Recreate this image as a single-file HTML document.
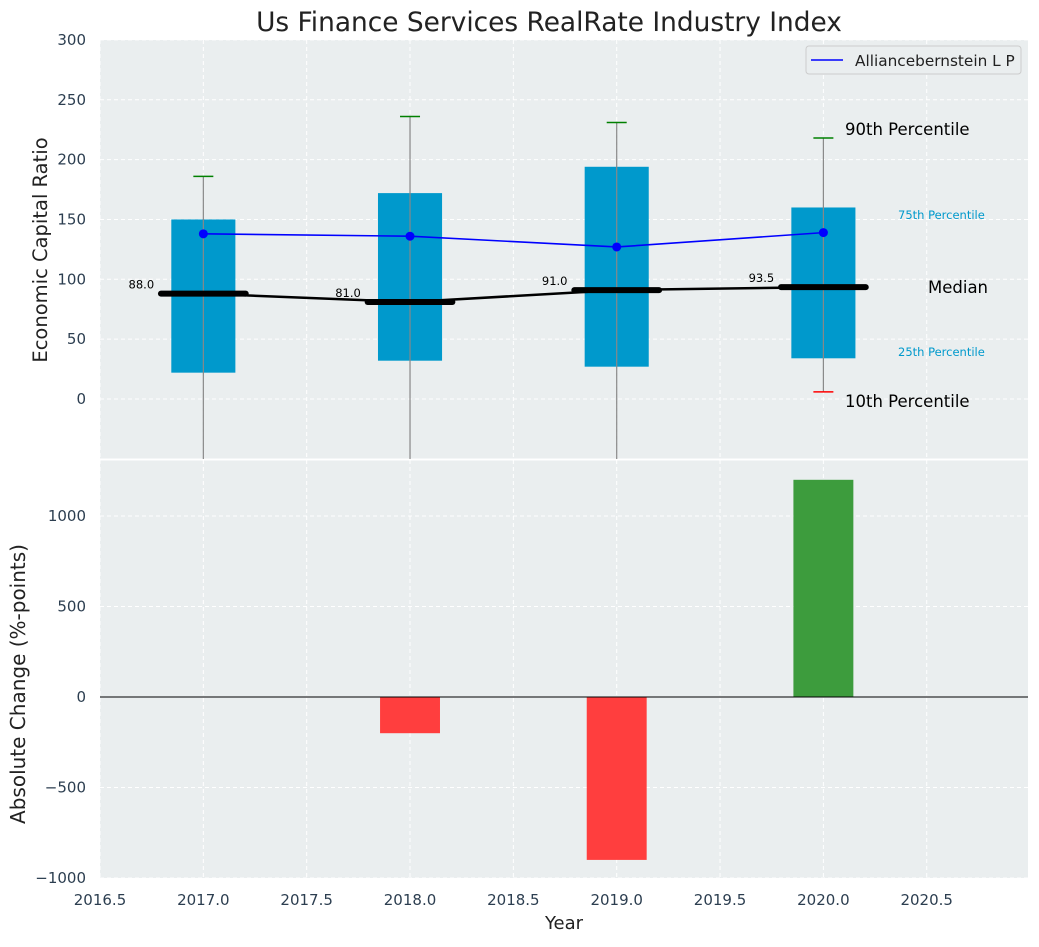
<!DOCTYPE html>
<html><head><meta charset="utf-8"><style>
body{margin:0;background:#fff;}
svg text{font-family:"DejaVu Sans","Liberation Sans",sans-serif;}
</style></head><body>
<svg id="c" width="1039" height="942" xmlns="http://www.w3.org/2000/svg"></svg>
<script>
const years=[2017,2018,2019,2020];
const q10=[-60,-60,-60,6];
const q25=[22,32,27,34];
const med=[88,81,91,93.5];
const q75=[150,172,194,160];
const q90=[186,236,231,218];
const company=[138,136,127,139];
const changes=[0,-200,-900,1200];
const xTicks=[2016.5,2017,2017.5,2018,2018.5,2019,2019.5,2020,2020.5];
const yTopTicks=[0,50,100,150,200,250,300];
const yBotTicks=[-1000,-500,0,500,1000];

const NS="http://www.w3.org/2000/svg";
const svg=document.getElementById('c');
function el(t,a,txt){const e=document.createElementNS(NS,t);for(const k in a)e.setAttribute(k,a[k]);if(txt!==undefined)e.textContent=txt;svg.appendChild(e);return e;}
const L=100,R=1028,T1=40,B1=459,T2=460,B2=878;
const X=v=>L+(v-2016.5)*(R-L)/(2020.99-2016.5);
const Y1=v=>399-v*1.197;
const Y2=v=>697-v*0.181;

let e;
e=el('rect',{x:L,y:T1,width:R-L,height:B1-T1,fill:'#eaeeef'});

e=el('rect',{x:L,y:T2,width:R-L,height:B2-T2,fill:'#eaeeef'});

xTicks.forEach(t=>{
 el('line',{x1:X(t),x2:X(t),y1:T1,y2:B1,stroke:'#fff','stroke-dasharray':'4,3','stroke-width':1});
 el('line',{x1:X(t),x2:X(t),y1:T2,y2:B2,stroke:'#fff','stroke-dasharray':'4,3','stroke-width':1});
 e=el('text',{x:X(t),y:905,'text-anchor':'middle','font-size':15,fill:'#2c3e50'},t.toFixed(1));
 
});
yTopTicks.forEach(t=>{
 el('line',{x1:L,x2:R,y1:Y1(t),y2:Y1(t),stroke:'#fff','stroke-dasharray':'4,3'});
 e=el('text',{x:86,y:Y1(t)+5,'text-anchor':'end','font-size':15,fill:'#2c3e50'},t);
 
});
yBotTicks.forEach(t=>{
 el('line',{x1:L,x2:R,y1:Y2(t),y2:Y2(t),stroke:'#fff','stroke-dasharray':'4,3'});
 e=el('text',{x:86,y:Y2(t)+5,'text-anchor':'end','font-size':15,fill:'#2c3e50'},t<0?'\u2212'+(-t):t);
 
});
el('line',{x1:L,x2:R,y1:459.5,y2:459.5,stroke:'#fff','stroke-width':2});
const bw=0.31*(R-L)/4.49, mw=0.41*(R-L)/4.49;
const clipY=v=>Math.min(B1,Y1(v));
years.forEach((yr,i)=>{
 const cx=X(yr);
 e=el('rect',{x:cx-bw/2,y:Y1(q75[i]),width:bw,height:Y1(q25[i])-Y1(q75[i]),fill:'#0099cc'});
 
 e=el('line',{x1:cx,x2:cx,y1:Y1(q90[i]),y2:clipY(q10[i]),stroke:'#888','stroke-width':1.2});
 
 el('line',{x1:cx-10,x2:cx+10,y1:Y1(q90[i]),y2:Y1(q90[i]),stroke:'green','stroke-width':1.5});
 if(Y1(q10[i])<B1) el('line',{x1:cx-10,x2:cx+10,y1:Y1(q10[i]),y2:Y1(q10[i]),stroke:'red','stroke-width':1.5});
 e=el('line',{x1:cx-mw/2,x2:cx+mw/2,y1:Y1(med[i]),y2:Y1(med[i]),stroke:'#000','stroke-width':6,'stroke-linecap':'round'});
 
 e=el('text',{x:X(yr-0.3),y:Y1(med[i])-5,'text-anchor':'middle','font-size':11.5,fill:'#000'},med[i].toFixed(1));
 
});
e=el('polyline',{points:years.map((y,i)=>X(y)+','+Y1(med[i])).join(' '),fill:'none',stroke:'#000','stroke-width':2.5});

e=el('polyline',{points:years.map((y,i)=>X(y)+','+Y1(company[i])).join(' '),fill:'none',stroke:'blue','stroke-width':1.6});

years.forEach((y,i)=>{e=el('circle',{cx:X(y),cy:Y1(company[i]),r:4.5,fill:'blue'});
 });
const ann=[[845,135,'90th Percentile',16.5,'#000'],[898,219,'75th Percentile',11.5,'#0099cc'],[928,293,'Median',16.5,'#000'],[898,356,'25th Percentile',11.5,'#0099cc'],[845,407,'10th Percentile',16.5,'#000']];
ann.forEach(a=>{e=el('text',{x:a[0],y:a[1],'font-size':a[3],fill:a[4]},a[2]);});
e=el('rect',{x:806,y:46,width:215,height:28,rx:3,fill:'#eaeeef',stroke:'#ccc'});

el('line',{x1:811,x2:843,y1:60,y2:60,stroke:'blue','stroke-width':1.6});
e=el('text',{x:855,y:66,'font-size':15.3,fill:'#222'},'Alliancebernstein L P');

const barw=0.29*(R-L)/4.49;
years.forEach((y,i)=>{
 if(!changes[i])return;
 const v=changes[i];
 e=el('rect',{x:X(y)-barw/2,y:Math.min(Y2(v),Y2(0)),width:barw,height:Math.abs(Y2(v)-Y2(0)),fill:v<0?'#ff3e3e':'#3d9c3d'});
 
});
el('line',{x1:L,x2:R,y1:Y2(0),y2:Y2(0),stroke:'#000','stroke-width':1});
e=el('text',{x:549,y:31,'text-anchor':'middle','font-size':26.4,fill:'#222'},'Us Finance Services RealRate Industry Index');

e=el('text',{x:0,y:0,'text-anchor':'middle','font-size':19.5,fill:'#222',transform:'translate(47,250) rotate(-90)'},'Economic Capital Ratio');

e=el('text',{x:0,y:0,'text-anchor':'middle','font-size':20,fill:'#222',transform:'translate(25,684) rotate(-90)'},'Absolute Change (%-points)');

e=el('text',{x:564,y:929,'text-anchor':'middle','font-size':18,fill:'#222'},'Year');

</script>
</body></html>
